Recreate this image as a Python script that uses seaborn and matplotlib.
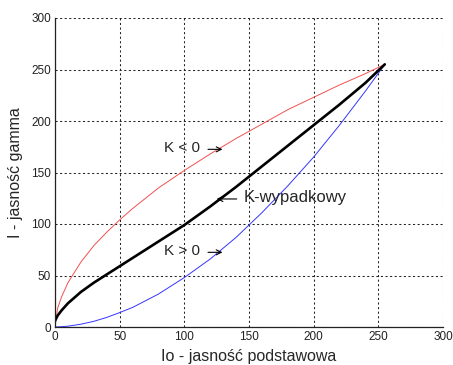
import matplotlib
matplotlib.use("Agg")
import matplotlib.pyplot as plt
import seaborn as sns
import pandas as pd

# Data
x_vals = [0, 2, 5, 10, 20, 30, 40, 50, 60, 80, 100, 120, 140, 160, 180, 200, 220, 240, 255]
red_vals = [0, 18, 29, 43, 63, 79, 92, 104, 115, 135, 152, 168, 183, 197, 211, 223, 235, 246, 255]
blue_vals = [0, 0.1, 0.3, 0.8, 2.7, 5.5, 9.3, 14, 19, 32, 48, 66, 87, 111, 137, 165, 196, 229, 255]
black_vals = [6, 11, 16, 23, 34, 43, 51, 59, 67, 83, 99, 117, 136, 156, 176, 196, 216, 237, 255]

xticks = [0, 50, 100, 150, 200, 250, 300]
yticks = [0, 50, 100, 150, 200, 250, 300]

sns.set_style("white")
plt.rcParams['font.family'] = ['Liberation Sans', 'DejaVu Sans']

df = pd.DataFrame({"x": x_vals, "red": red_vals, "blue": blue_vals, "black": black_vals})

fig = plt.figure(figsize=(4.53, 3.65), dpi=100)
ax = fig.add_axes([55/453, 38/365, 388/453, 309/365])

sns.lineplot(data=df, x="x", y="red", ax=ax, color="#f25050", linewidth=0.7)
sns.lineplot(data=df, x="x", y="blue", ax=ax, color="#3535ff", linewidth=0.7)
sns.lineplot(data=df, x="x", y="black", ax=ax, color="black", linewidth=1.9)

ax.set_xlim(0, 300)
ax.set_ylim(0, 300)
ax.set_xticks(xticks)
ax.set_yticks(yticks)
ax.set_xticklabels([str(t) for t in xticks], fontsize=8.5)
ax.set_yticklabels([str(t) for t in yticks], fontsize=8.5)
ax.tick_params(direction='in', length=3, width=0.8, colors='#222222', pad=3)
ax.grid(True, color='#222222', linestyle=(0, (2.0, 2.4)), linewidth=0.75)
for s in ['top', 'right']:
    ax.spines[s].set_visible(False)
for s in ['left', 'bottom']:
    ax.spines[s].set_color('#222222')
    ax.spines[s].set_linewidth(0.9)

ax.set_xlabel("Io - jasność podstawowa", fontsize=11.5, labelpad=4)
ax.set_ylabel("I - jasność gamma", fontsize=11.5, labelpad=6)

arrow_kw = dict(arrowstyle='->', lw=0.8, color='black', shrinkA=0, shrinkB=0,
                mutation_scale=9)
ax.text(84.5, 173.5, "K < 0", fontsize=11, va='center', ha='left')
ax.annotate("", xy=(129.5, 172.5), xytext=(118.3, 172.5), arrowprops=arrow_kw)
ax.text(84.5, 73.5, "K > 0", fontsize=11, va='center', ha='left')
ax.annotate("", xy=(129.5, 72.5), xytext=(118.3, 72.5), arrowprops=arrow_kw)
ax.annotate("", xy=(125, 124.3), xytext=(140.5, 124.3), arrowprops=arrow_kw)
ax.text(146, 126, "K-wypadkowy", fontsize=12, va='center', ha='left')

fig.savefig("out.png", dpi=100)
